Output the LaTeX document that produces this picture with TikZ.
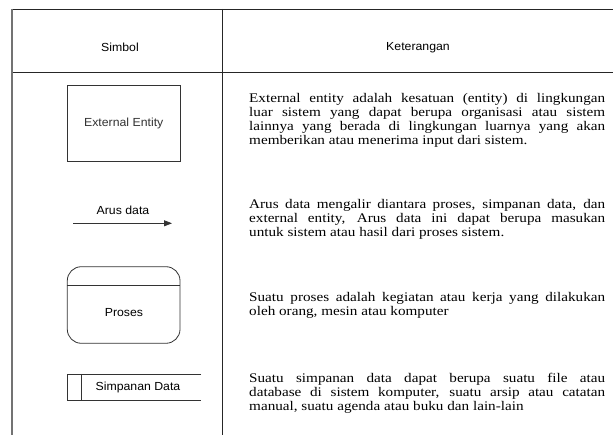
\documentclass[tikz,border=0pt]{standalone}
\usepackage{fontspec}
\setmainfont{Liberation Serif}
\newfontfamily\bodyserif[FakeStretch=1.15]{Liberation Serif}
\newfontfamily\labelsans[FakeStretch=1.05]{Liberation Sans}
\usetikzlibrary{arrows.meta,calc}

\begin{document}
\begin{tikzpicture}[x=1pt,y=-1pt,
  rule/.style={line width=0.9pt, black!85},
  sym/.style={line width=0.8pt, black!80},
  lbl/.style={font=\labelsans\fontsize{11.7}{13}\selectfont, inner sep=0pt},
  desc/.style={font=\bodyserif\fontsize{13.2}{13.8}\selectfont,
    text width=356pt, align=justify, inner sep=0pt, anchor=base west}]
\useasboundingbox (0,0) rectangle (613,435);
\fill[white] (0,0) rectangle (613,435);

% table rules
\coordinate (tl) at (12,9);
\coordinate (tr) at (613,9);
\coordinate (hl) at (12,72);
\coordinate (hr) at (613,72);
\coordinate (bl) at (12,435);
\coordinate (dt) at (222,9);
\coordinate (db) at (222,435);
\draw[rule] (tl) -- (tr);
\draw[rule] (hl) -- (hr);
\draw[rule, black!55, line width=1.1pt] (tl) -- (bl);
\draw[rule] (dt) -- (db);

% header
\node[lbl] (hsym) at (120,47.5) {Simbol};
\node[lbl] (hket) at (418,47.5) {Keterangan};

% external entity
\node[draw, sym, lbl, minimum width=112.5pt, minimum height=76pt] (ee) at (123.75,123) {External Entity};

% data flow
\coordinate (a1) at (73,223.3);
\coordinate (a2) at (172,223.3);
\draw[sym, -{Triangle[length=8pt,width=6pt]}] (a1) -- (a2);
\node[lbl] (arus) at (123,210.5) {Arus data};

% process
\node[draw, sym, rounded corners=14pt, minimum width=112.7pt, minimum height=76.6pt] (proc) at (123.65,305) {};
\draw[sym] ($(proc.north west)+(0,19.3)$) -- ($(proc.north east)+(0,19.3)$);
\node[lbl] (proclbl) at (124,313) {Proses};

% data store
\coordinate (s1) at (201,374);
\coordinate (s2) at (67.3,374);
\coordinate (s3) at (67.3,400);
\coordinate (s4) at (201,400);
\coordinate (s5) at (81.3,374);
\coordinate (s6) at (81.3,400);
\draw[sym] (s1) -- (s2) -- (s3) -- (s4);
\draw[sym] (s5) -- (s6);
\node[lbl] (store) at (138,387) {Simpanan Data};

% descriptions
\node[desc] (d1) at (249,103) {External entity adalah kesatuan (entity) di lingkungan\linebreak luar sistem yang dapat berupa organisasi atau sistem\linebreak lainnya yang berada di lingkungan luarnya yang akan\linebreak memberikan atau menerima input dari sistem.};
\node[desc] (d2) at (249,208.5) {Arus data mengalir diantara proses, simpanan data, dan\linebreak external entity, Arus data ini dapat berupa masukan\linebreak untuk sistem atau hasil dari proses sistem.};
\node[desc] (d3) at (249,302) {Suatu proses adalah kegiatan atau kerja yang dilakukan\linebreak oleh orang, mesin atau komputer};
\node[desc] (d4) at (249,383) {Suatu simpanan data dapat berupa suatu file atau\linebreak database di sistem komputer, suatu arsip atau catatan\linebreak manual, suatu agenda atau buku dan lain-lain};
\end{tikzpicture}
\end{document}
